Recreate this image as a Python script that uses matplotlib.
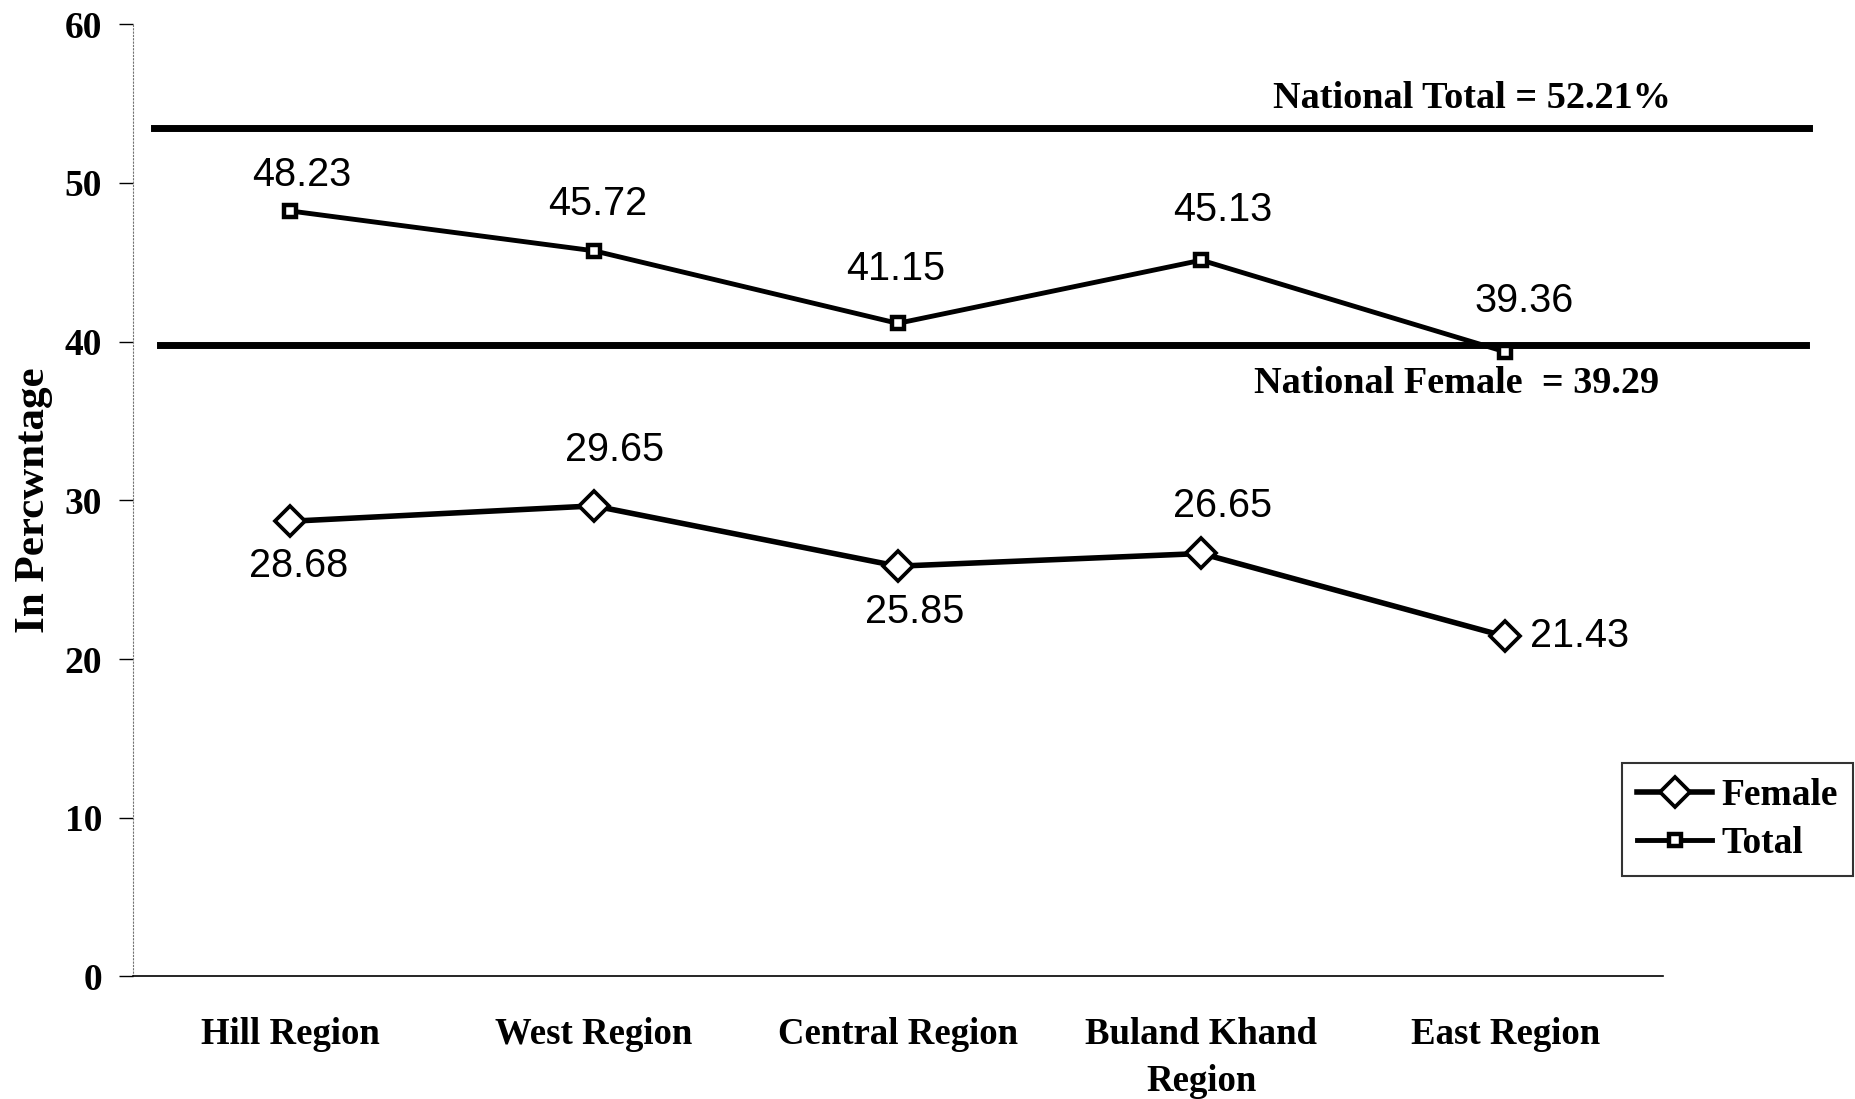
import matplotlib.pyplot as plt

regions = ["Hill Region", "West Region", "Central Region", "Buland Khand\nRegion", "East Region"]
female = [28.68, 29.65, 25.85, 26.65, 21.43]
total = [48.23, 45.72, 41.15, 45.13, 39.36]

# reference lines as drawn in the picture, with their printed labels
national_total_y = 53.45
national_female_y = 39.8
national_total_label = "National Total = 52.21%"
national_female_label = "National Female  = 39.29"

# label offsets in pixels (dx, dy)
total_off = [(11, 36), (4, 47), (-2, 54), (21, 50), (19, 51)]
female_off = [(8, -45), (20, 56), (17, -46), (21, 47), (25, 0)]

serif = "Liberation Serif"
sans = "Liberation Sans"

fig = plt.figure(figsize=(18.56, 10.99), dpi=100)
ax = fig.add_axes([0.0714, 0.1115, 0.8246, 0.8665])

x = list(range(len(regions)))

ax.plot(x, female, color="black", lw=4, marker="D", ms=15,
        mfc="white", mec="black", mew=2.7, label="Female", zorder=4)
ax.plot(x, total, color="black", lw=3.5, marker="s", ms=9,
        mfc="white", mec="black", mew=3.2, label="Total", zorder=4)

ax.plot([-0.45, 5.0], [national_total_y, national_total_y], color="black",
        lw=5, clip_on=False, zorder=3)
ax.plot([-0.43, 4.99], [national_female_y, national_female_y], color="black",
        lw=5, clip_on=False, zorder=3)

ax.text(3.89, 55.3, national_total_label, ha="center", va="center",
        fontsize=27.5, fontweight="bold", family=serif)
ax.text(3.84, 37.35, national_female_label, ha="center", va="center",
        fontsize=27.5, fontweight="bold", family=serif)

for i, v in enumerate(total):
    ax.annotate(f"{v:.2f}", (i, v), xytext=total_off[i], textcoords="offset pixels",
                ha="center", va="center", fontsize=28.5, family=sans)
for i, v in enumerate(female):
    ha = "left" if i == len(female) - 1 else "center"
    ax.annotate(f"{v:.2f}", (i, v), xytext=female_off[i], textcoords="offset pixels",
                ha=ha, va="center", fontsize=28.5, family=sans)

ax.set_xlim(-0.52, 4.52)
ax.set_ylim(0, 60)
ax.set_yticks(range(0, 61, 10))
ax.set_xticks(x)
ax.set_xticklabels(regions, fontsize=26.5, fontweight="bold", family=serif,
                   linespacing=1.45)
for lab in ax.get_yticklabels():
    lab.set_fontsize(27)
    lab.set_fontweight("bold")
    lab.set_family(serif)

ax.tick_params(axis="x", length=0, pad=29)
ax.tick_params(axis="y", direction="out", length=10, width=1, pad=12)

for s in ["top", "right"]:
    ax.spines[s].set_visible(False)
ax.spines["left"].set_color("0.45")
ax.spines["left"].set_linestyle((0, (1, 2)))
ax.spines["left"].set_linewidth(0.8)
ax.spines["bottom"].set_linewidth(1.2)

ax.set_ylabel("In Percwntage", fontsize=31, fontweight="bold", family=serif, labelpad=8)

leg = fig.legend(loc="upper left", bbox_to_anchor=(0.874, 0.306),
                 prop={"family": serif, "weight": "bold", "size": 27},
                 frameon=True, fancybox=False, edgecolor="black",
                 handlelength=2.0, handletextpad=0.25, borderpad=0.4,
                 labelspacing=0.35, borderaxespad=0)
leg.get_frame().set_linewidth(1.5)

fig.savefig("out.png", dpi=100, facecolor="white")
